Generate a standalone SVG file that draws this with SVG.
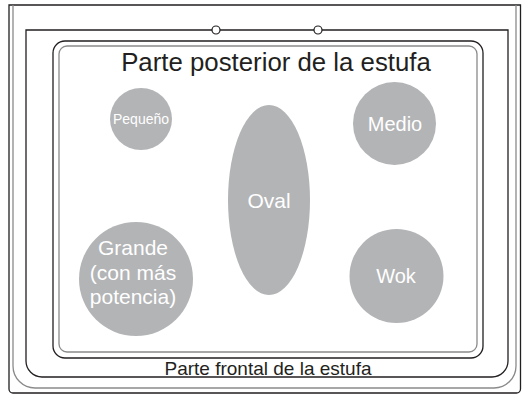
<svg xmlns="http://www.w3.org/2000/svg" width="522" height="396" viewBox="0 0 522 396">
<style>
.ln{fill:none;stroke:#231f20;stroke-width:1.3}
.lg{fill:none;stroke:#8a8a8c;stroke-width:1.3}
.burner{fill:#b3b4b6}
.bt{fill:#ffffff;font-family:"Liberation Sans",Arial,sans-serif;text-anchor:middle}
.lbl{fill:#231f20;font-family:"Liberation Sans",Arial,sans-serif;text-anchor:middle}
.knob{fill:#ffffff;stroke:#231f20;stroke-width:1.2}
</style>
<rect width="522" height="396" fill="#ffffff"/>
<g id="stove-frame">
<path class="ln" d="M9,5 H520.5 V389 a4,4 0 0 1 -4,4 H13 a4,4 0 0 1 -4,-4 Z"/>
<path class="lg" d="M13,5 V366 a22,22 0 0 0 22,22 H494 a22,22 0 0 0 22,-22 V5"/>
<path class="ln" d="M26,30 H508 V361 a16,16 0 0 1 -16,16 H42 a16,16 0 0 1 -16,-16 Z"/>
<rect class="ln" x="53" y="41" width="430" height="317" rx="12"/>
<rect class="lg" x="59" y="46" width="418" height="306" rx="8"/>
<circle class="knob" cx="216" cy="30" r="4"/>
<circle class="knob" cx="318" cy="30" r="4"/>
</g>
<g id="label-back">
<text class="lbl" x="276" y="71" font-size="25.8">Parte posterior de la estufa</text>
</g>
<g id="label-front">
<text class="lbl" x="268" y="375" font-size="19">Parte frontal de la estufa</text>
</g>
<g id="burner-pequeno">
<circle class="burner" cx="141" cy="119" r="31"/>
<text class="bt" x="141" y="124" font-size="14">Pequeño</text>
</g>
<g id="burner-medio">
<circle class="burner" cx="394.5" cy="123.5" r="41.5"/>
<text class="bt" x="395" y="131" font-size="20">Medio</text>
</g>
<g id="burner-oval">
<ellipse class="burner" cx="269" cy="200" rx="41" ry="95"/>
<text class="bt" x="269" y="208" font-size="21">Oval</text>
</g>
<g id="burner-grande">
<circle class="burner" cx="136" cy="279" r="57"/>
<text class="bt" x="133" y="255" font-size="21">Grande</text>
<text class="bt" x="133" y="280" font-size="21">(con más</text>
<text class="bt" x="133" y="304" font-size="21">potencia)</text>
</g>
<g id="burner-wok">
<circle class="burner" cx="396.5" cy="276" r="47"/>
<text class="bt" x="396" y="283" font-size="20">Wok</text>
</g>
<g id="connectors"></g>
</svg>
